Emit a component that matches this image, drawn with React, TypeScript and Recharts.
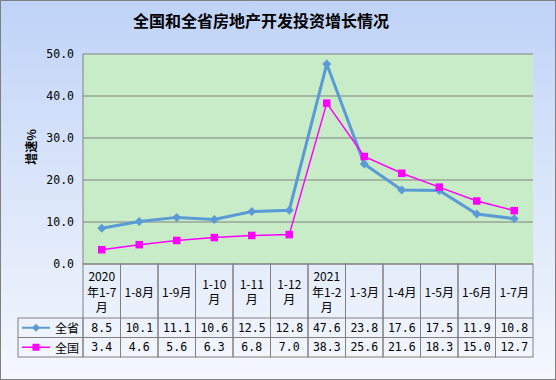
import { LineChart, Line, XAxis, YAxis, CartesianGrid } from 'recharts';

const categories = ['2020年1-7月', '1-8月', '1-9月', '1-10月', '1-11月', '1-12月', '2021年1-2月', '1-3月', '1-4月', '1-5月', '1-6月', '1-7月'];
const provinceValues = [8.5, 10.1, 11.1, 10.6, 12.5, 12.8, 47.6, 23.8, 17.6, 17.5, 11.9, 10.8];
const nationalValues = [3.4, 4.6, 5.6, 6.3, 6.8, 7.0, 38.3, 25.6, 21.6, 18.3, 15.0, 12.7];
const yTicks = [0, 10, 20, 30, 40, 50];
const seriesNames = ['全省', '全国'];

const W = 556;
const H = 380;
const PLOT_LEFT = 83;
const PLOT_RIGHT = 533;
const COL_W = (PLOT_RIGHT - PLOT_LEFT) / categories.length;
const HEADER_H = 54;
const ROW_H = 19.5;
const LEGEND_W = 65;
const BLUE = '#5b9bd5';
const PINK = '#ff00ff';
const GRID = '#808080';
const FONT = '"Noto Sans CJK SC", "DejaVu Sans", sans-serif';
const NUM_FONT = '"DejaVu Sans Mono", monospace';

const data = categories.map((c, i) => ({
  name: c,
  province: provinceValues[i],
  national: nationalValues[i],
}));

// crude wrap: ascii ~6px, cjk ~12px at 12px font
function wrap(label: string, maxW: number) {
  const lines: string[] = [];
  let cur = '';
  let w = 0;
  for (const ch of label) {
    const cw = ch.charCodeAt(0) > 255 ? 12 : 6;
    if (w + cw > maxW && cur) {
      lines.push(cur);
      cur = '';
      w = 0;
    }
    cur += ch;
    w += cw;
  }
  if (cur) lines.push(cur);
  return lines;
}

function Diamond({ cx, cy, r = 4.5 }: { cx: number; cy: number; r?: number }) {
  return <path d={`M${cx},${cy - r}L${cx + r},${cy}L${cx},${cy + r}L${cx - r},${cy}Z`} fill={BLUE} />;
}

function Square({ cx, cy, s = 7.5 }: { cx: number; cy: number; s?: number }) {
  return <rect x={cx - s / 2} y={cy - s / 2} width={s} height={s} fill={PINK} />;
}

function TableTick(props: any) {
  const { x, y, payload } = props;
  const i = payload.index;
  const left = x - COL_W / 2;
  const lines = wrap(String(payload.value), 34);
  const lineH = 15.5;
  const midY = y + HEADER_H / 2;
  const firstY = midY - ((lines.length - 1) * lineH) / 2;
  const r1 = y + HEADER_H;
  const r2 = r1 + ROW_H;
  const bottom = r2 + ROW_H;
  const cellText = { fontSize: 12, fontFamily: FONT, fill: '#000', textAnchor: 'middle' as const, dominantBaseline: 'central' as const };
  const numText = { ...cellText, fontSize: 11.5, fontFamily: NUM_FONT };
  return (
    <g>
      <rect x={left} y={y} width={COL_W} height={bottom - y} fill="none" stroke={GRID} strokeWidth={1} />
      <line x1={left} x2={left + COL_W} y1={r1} y2={r1} stroke={GRID} />
      <line x1={left} x2={left + COL_W} y1={r2} y2={r2} stroke={GRID} />
      {lines.map((l, k) => (
        <text key={k} x={x} y={firstY + k * lineH} {...cellText}>{l}</text>
      ))}
      <text x={x} y={r1 + ROW_H / 2} {...numText}>{provinceValues[i].toFixed(1)}</text>
      <text x={x} y={r2 + ROW_H / 2} {...numText}>{nationalValues[i].toFixed(1)}</text>
      {i === 0 && (
        <g>
          <rect x={left - LEGEND_W} y={r1} width={LEGEND_W} height={ROW_H * 2} fill="none" stroke={GRID} />
          <line x1={left - LEGEND_W} x2={left} y1={r2} y2={r2} stroke={GRID} />
          <line x1={left - LEGEND_W + 4} x2={left - LEGEND_W + 32} y1={r1 + ROW_H / 2} y2={r1 + ROW_H / 2} stroke={BLUE} strokeWidth={2} />
          <Diamond cx={left - LEGEND_W + 18} cy={r1 + ROW_H / 2} r={4} />
          <line x1={left - LEGEND_W + 4} x2={left - LEGEND_W + 32} y1={r2 + ROW_H / 2} y2={r2 + ROW_H / 2} stroke={PINK} strokeWidth={1.5} />
          <Square cx={left - LEGEND_W + 18} cy={r2 + ROW_H / 2} s={7} />
          <text x={left - 4} y={r1 + ROW_H / 2} {...cellText} textAnchor="end">{seriesNames[0]}</text>
          <text x={left - 4} y={r2 + ROW_H / 2} {...cellText} textAnchor="end">{seriesNames[1]}</text>
        </g>
      )}
    </g>
  );
}

export default function App() {
  return (
    <div
      style={{
        position: 'absolute',
        left: 0,
        top: 0,
        width: W,
        height: H,
        boxSizing: 'border-box',
        border: `1px solid ${GRID}`,
        background: 'linear-gradient(to bottom, #bfd3f8 0%, #dbe6fa 50%, #f4f7fd 100%)',
        fontFamily: FONT,
      }}
    >
      <svg width={W} height={H} style={{ position: 'absolute', left: -1, top: -1, pointerEvents: 'none' }}>
        <text x={261} y={20} textAnchor="middle" dominantBaseline="central" fontSize={16} fontWeight="bold" fontFamily={FONT}>
          全国和全省房地产开发投资增长情况
        </text>
        <text
          x={30}
          y={147}
          textAnchor="middle"
          dominantBaseline="central"
          fontSize={12}
          fontWeight="bold"
          fontFamily={FONT}
          transform="rotate(-90 30 147)"
        >
          增速%
        </text>
      </svg>
      <div style={{ position: 'absolute', left: -1, top: -1 }}>
        <LineChart width={W} height={H} data={data} margin={{ top: 54, right: W - PLOT_RIGHT, bottom: 23, left: 0 }}>
          <CartesianGrid vertical={false} stroke={GRID} fill="#c8ecc8" />
          <XAxis
            dataKey="name"
            height={93}
            tickSize={0}
            tickMargin={0}
            tickLine={false}
            axisLine={false}
            interval={0}
            padding={{ left: COL_W / 2, right: COL_W / 2 }}
            tick={<TableTick />}
          />
          <YAxis
            width={PLOT_LEFT}
            domain={[0, 50]}
            ticks={yTicks}
            tickFormatter={(v: number) => v.toFixed(1)}
            tickSize={0}
            tickMargin={9}
            tickLine={false}
            axisLine={{ stroke: GRID }}
            tick={{ fontSize: 11.5, fill: '#000', fontFamily: NUM_FONT }}
          />
          <Line
            dataKey="province"
            stroke={BLUE}
            strokeWidth={3}
            isAnimationActive={false}
            dot={(p: any) => <Diamond key={p.index} cx={p.cx} cy={p.cy} />}
            activeDot={false}
          />
          <Line
            dataKey="national"
            stroke={PINK}
            strokeWidth={1.5}
            isAnimationActive={false}
            dot={(p: any) => <Square key={p.index} cx={p.cx} cy={p.cy} />}
            activeDot={false}
          />
        </LineChart>
      </div>
    </div>
  );
}
